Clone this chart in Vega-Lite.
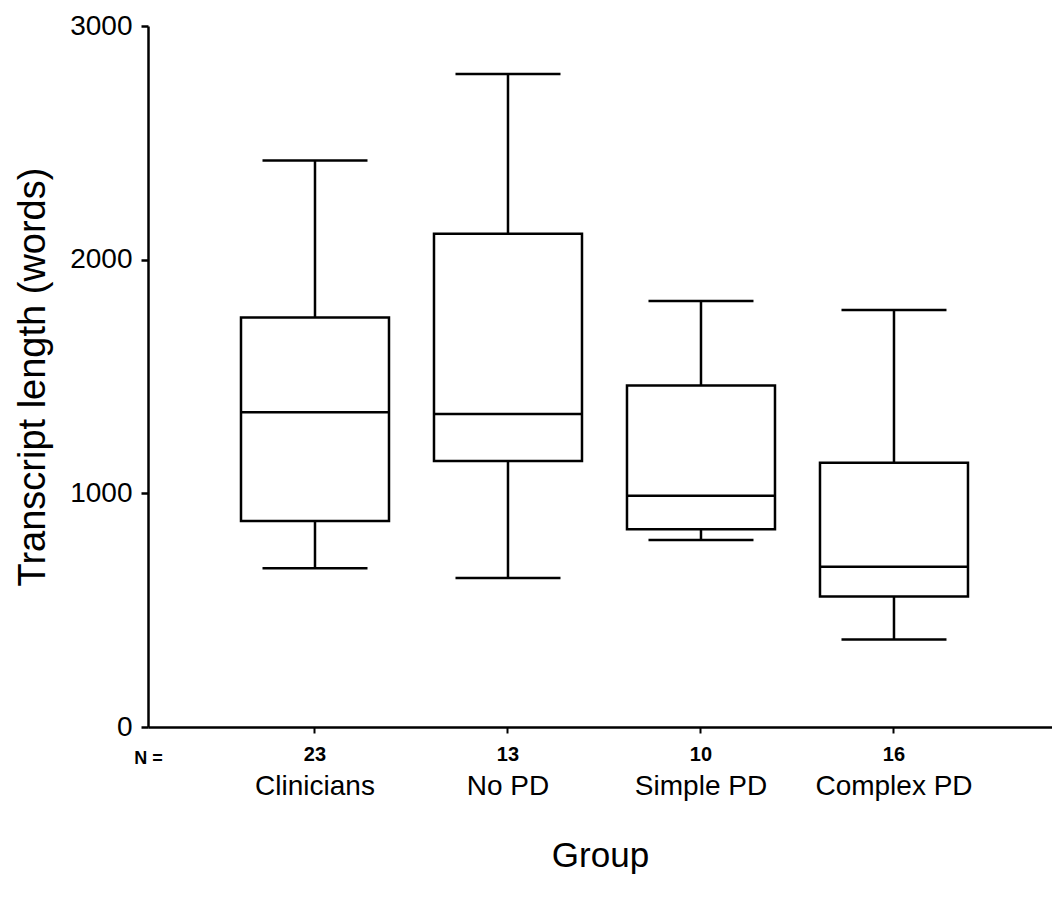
{
  "$schema": "https://vega.github.io/schema/vega-lite/v6.json",
  "width": 904,
  "height": 701,
  "autosize": {"type": "none"},
  "padding": {"left": 148, "top": 26, "right": 0, "bottom": 172},
  "background": "white",
  "config": {
    "view": {"stroke": null},
    "font": "Liberation Sans",
    "axis": {"grid": false, "domainColor": "black", "tickColor": "black", "labelColor": "black", "titleColor": "black", "labelFont": "Liberation Sans", "titleFont": "Liberation Sans", "titleFontWeight": "normal"}
  },
  "data": {
    "values": [
      {"group": "Clinicians", "n": "23", "lower": 679, "q1": 882, "median": 1347, "q3": 1753, "upper": 2424},
      {"group": "No PD", "n": "13", "lower": 638, "q1": 1138, "median": 1340, "q3": 2111, "upper": 2795},
      {"group": "Simple PD", "n": "10", "lower": 800, "q1": 846, "median": 990, "q3": 1462, "upper": 1823},
      {"group": "Complex PD", "n": "16", "lower": 375, "q1": 558, "median": 686, "q3": 1131, "upper": 1785}
    ]
  },
  "resolve": {"scale": {"x": "independent"}, "axis": {"x": "independent"}},
  "layer": [
    {
      "encoding": {
        "x": {"field": "group", "type": "nominal", "sort": null,
          "scale": {"paddingInner": 0, "paddingOuter": 0.342, "align": 0.534},
          "axis": {"orient": "bottom", "title": "Group", "titleFontSize": 35, "titlePadding": 38, "labelFontSize": 28, "labelPadding": 39, "labelAngle": 0, "tickSize": 6, "tickWidth": 2, "domainWidth": 2.5}},
        "y": {"type": "quantitative"}
      },
      "layer": [
        {"mark": {"type": "rule", "color": "black", "strokeWidth": 2.5},
         "encoding": {"y": {"field": "lower", "type": "quantitative",
            "scale": {"domain": [0, 3000], "nice": false},
            "axis": {"title": "Transcript length (words)", "titleFontSize": 38, "titlePadding": 17, "labelFontSize": 28, "labelPadding": 9, "format": "d", "values": [0, 1000, 2000, 3000], "tickSize": 7, "tickWidth": 2.5, "domainWidth": 2.5}},
           "y2": {"field": "upper"}}},
        {"mark": {"type": "bar", "size": 148, "fill": "white", "stroke": "black", "strokeWidth": 2.5},
         "encoding": {"y": {"field": "q1", "type": "quantitative"}, "y2": {"field": "q3"}}},
        {"mark": {"type": "tick", "size": 148, "thickness": 2.5, "color": "black", "opacity": 1},
         "encoding": {"y": {"field": "median", "type": "quantitative"}}},
        {"mark": {"type": "tick", "size": 105, "thickness": 2.5, "color": "black", "opacity": 1},
         "encoding": {"y": {"field": "upper", "type": "quantitative"}}},
        {"mark": {"type": "tick", "size": 105, "thickness": 2.5, "color": "black", "opacity": 1},
         "encoding": {"y": {"field": "lower", "type": "quantitative"}}}
      ]
    },
    {
      "mark": {"type": "tick", "opacity": 0},
      "encoding": {
        "x": {"field": "n", "type": "nominal", "sort": null,
          "scale": {"paddingInner": 0, "paddingOuter": 0.342, "align": 0.534},
          "axis": {"orient": "bottom", "title": "N =", "titleFontSize": 18, "titleFontWeight": "bold", "titleX": 0, "titleY": 36, "titleAlign": "center", "titleBaseline": "alphabetic", "titleAnchor": null, "labelFontSize": 20, "labelFontWeight": "bold", "labelPadding": 17, "labelAngle": 0, "ticks": false, "tickSize": 0, "domain": false}},
        "y": {"field": "median", "type": "quantitative"}
      }
    }
  ]
}
